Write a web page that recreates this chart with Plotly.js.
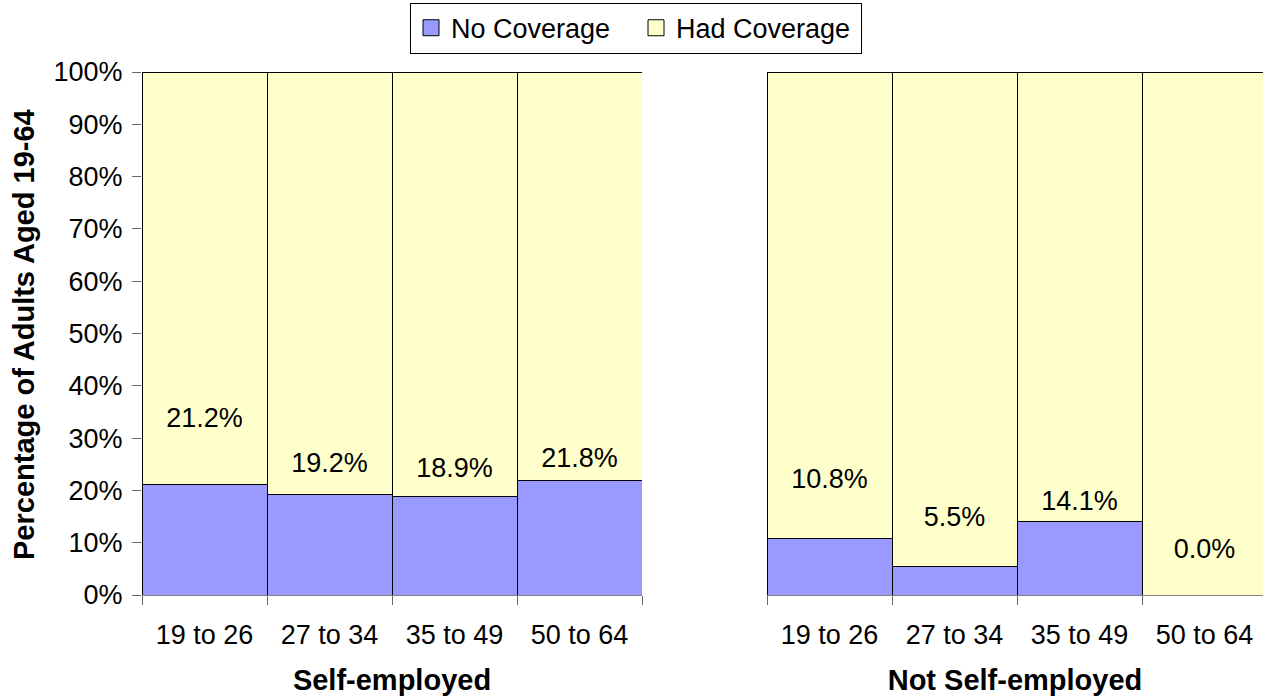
<!DOCTYPE html>
<html>
<head>
<meta charset="utf-8">
<script src="https://cdn.plot.ly/plotly-3.0.1.min.js"></script>
<style>html,body{margin:0;padding:0;background:#fff;}#chart{width:1263px;height:698px;}</style>
</head>
<body>
<div id="chart"></div>
<script>
const ageGroups = ['19 to 26', '27 to 34', '35 to 49', '50 to 64'];
const selfNoCoverage = [21.2, 19.2, 18.9, 21.8];
const selfHadCoverage = [78.8, 80.8, 81.1, 78.2];
const notSelfNoCoverage = [10.8, 5.5, 14.1, 0.0];
const notSelfHadCoverage = [89.2, 94.5, 85.9, 100.0];
const seriesNames = ['No Coverage', 'Had Coverage'];
const groupTitles = ['Self-employed', 'Not Self-employed'];
const yTitle = 'Percentage of Adults Aged 19-64';
const yTicks = [0, 10, 20, 30, 40, 50, 60, 70, 80, 90, 100];
// label placement (percent units) as drawn in the reference
const selfLabelPos = [33.5, 24.9, 23.9, 25.8];
const notSelfLabelPos = [21.8, 14.5, 17.6, 8.4];

const FONT = 'Liberation Sans, Arial, sans-serif';
const FS = 27;
const FSB = 29;
const BLUE = '#9999FF', YELLOW = '#FFFFCC';
const line = {color: '#000', width: 1};

const traces = [
  {type: 'bar', name: seriesNames[0], x: ageGroups, y: selfNoCoverage, xaxis: 'x', yaxis: 'y',
   marker: {color: BLUE, line}, showlegend: false, hoverinfo: 'y'},
  {type: 'bar', name: seriesNames[1], x: ageGroups, y: selfHadCoverage, xaxis: 'x', yaxis: 'y',
   marker: {color: YELLOW, line}, showlegend: false, hoverinfo: 'y'},
  {type: 'bar', name: seriesNames[0], x: ageGroups, y: notSelfNoCoverage, xaxis: 'x2', yaxis: 'y',
   marker: {color: BLUE, line}, showlegend: false, hoverinfo: 'y'},
  {type: 'bar', name: seriesNames[1], x: ageGroups, y: notSelfHadCoverage, xaxis: 'x2', yaxis: 'y',
   marker: {color: YELLOW, line}, showlegend: false, hoverinfo: 'y'},
  {type: 'scatter', mode: 'text', x: ageGroups, y: selfLabelPos, xaxis: 'x', yaxis: 'y',
   text: selfNoCoverage.map(v => v.toFixed(1) + '%'), textfont: {family: FONT, size: FS, color: '#000'},
   showlegend: false, hoverinfo: 'skip'},
  {type: 'scatter', mode: 'text', x: ageGroups, y: notSelfLabelPos, xaxis: 'x2', yaxis: 'y',
   text: notSelfNoCoverage.map(v => v.toFixed(1) + '%'), textfont: {family: FONT, size: FS, color: '#000'},
   showlegend: false, hoverinfo: 'skip'},
  // legend entries
  {type: 'scatter', mode: 'markers', name: seriesNames[0], x: [null], y: [null], xaxis: 'x', yaxis: 'y',
   marker: {symbol: 'square', size: 16, color: BLUE, line: {color: '#000', width: 1}}, hoverinfo: 'skip'},
  {type: 'scatter', mode: 'markers', name: seriesNames[1], x: [null], y: [null], xaxis: 'x', yaxis: 'y',
   marker: {symbol: 'square', size: 16, color: YELLOW, line: {color: '#000', width: 1}}, hoverinfo: 'skip'}
];

const W = 1263, L = 142;
const pw = W - L;
const xCommon = {
  type: 'category', tickson: 'boundaries', ticks: 'outside', ticklen: 9, tickcolor: '#666',
  showline: true, linecolor: '#808080', linewidth: 1, showgrid: false, zeroline: false,
  tickfont: {family: FONT, size: FS, color: '#000'}, ticklabelstandoff: 16, fixedrange: true
};
const groupFont = {family: FONT, size: FSB, color: '#000', weight: 'bold'};

const layout = {
  width: W, height: 698,
  margin: {l: L, r: 0, t: 72, b: 103},
  paper_bgcolor: '#fff', plot_bgcolor: 'rgba(0,0,0,0)',
  barmode: 'stack', bargap: 0,
  font: {family: FONT, color: '#000'},
  showlegend: true,
  legend: {orientation: 'h', x: (410 - L) / pw, xanchor: 'left', y: 1.035, yanchor: 'bottom',
           bordercolor: '#000', borderwidth: 1, font: {family: FONT, size: FS, color: '#000'},
           itemwidth: 30, traceorder: 'normal', tracegroupgap: 0, entrywidth: 180},
  xaxis: Object.assign({}, xCommon, {domain: [0, 500 / pw], range: [-0.5, 3.5],
    title: {text: groupTitles[0], font: groupFont, standoff: 20}}),
  xaxis2: Object.assign({}, xCommon, {domain: [625 / pw, 1], anchor: 'y', range: [-0.5, 3.468],
    title: {text: groupTitles[1], font: groupFont, standoff: 20}}),
  yaxis: {range: [0, 100], tickvals: yTicks, ticktext: yTicks.map(v => v + '%'),
    ticks: 'outside', ticklen: 9, tickcolor: '#666', showline: false, showgrid: false, zeroline: false,
    tickfont: {family: FONT, size: FS, color: '#000'}, ticklabelstandoff: 4, fixedrange: true},
  annotations: [{
    text: yTitle, textangle: -90, showarrow: false,
    xref: 'paper', yref: 'paper', x: -(L - 24) / pw, xanchor: 'center',
    y: (595 - 335) / 523, yanchor: 'middle',
    font: {family: FONT, size: FSB, color: '#000', weight: 'bold'}
  }]
};

Plotly.newPlot('chart', traces, layout, {displayModeBar: false, staticPlot: true});
</script>
</body>
</html>
